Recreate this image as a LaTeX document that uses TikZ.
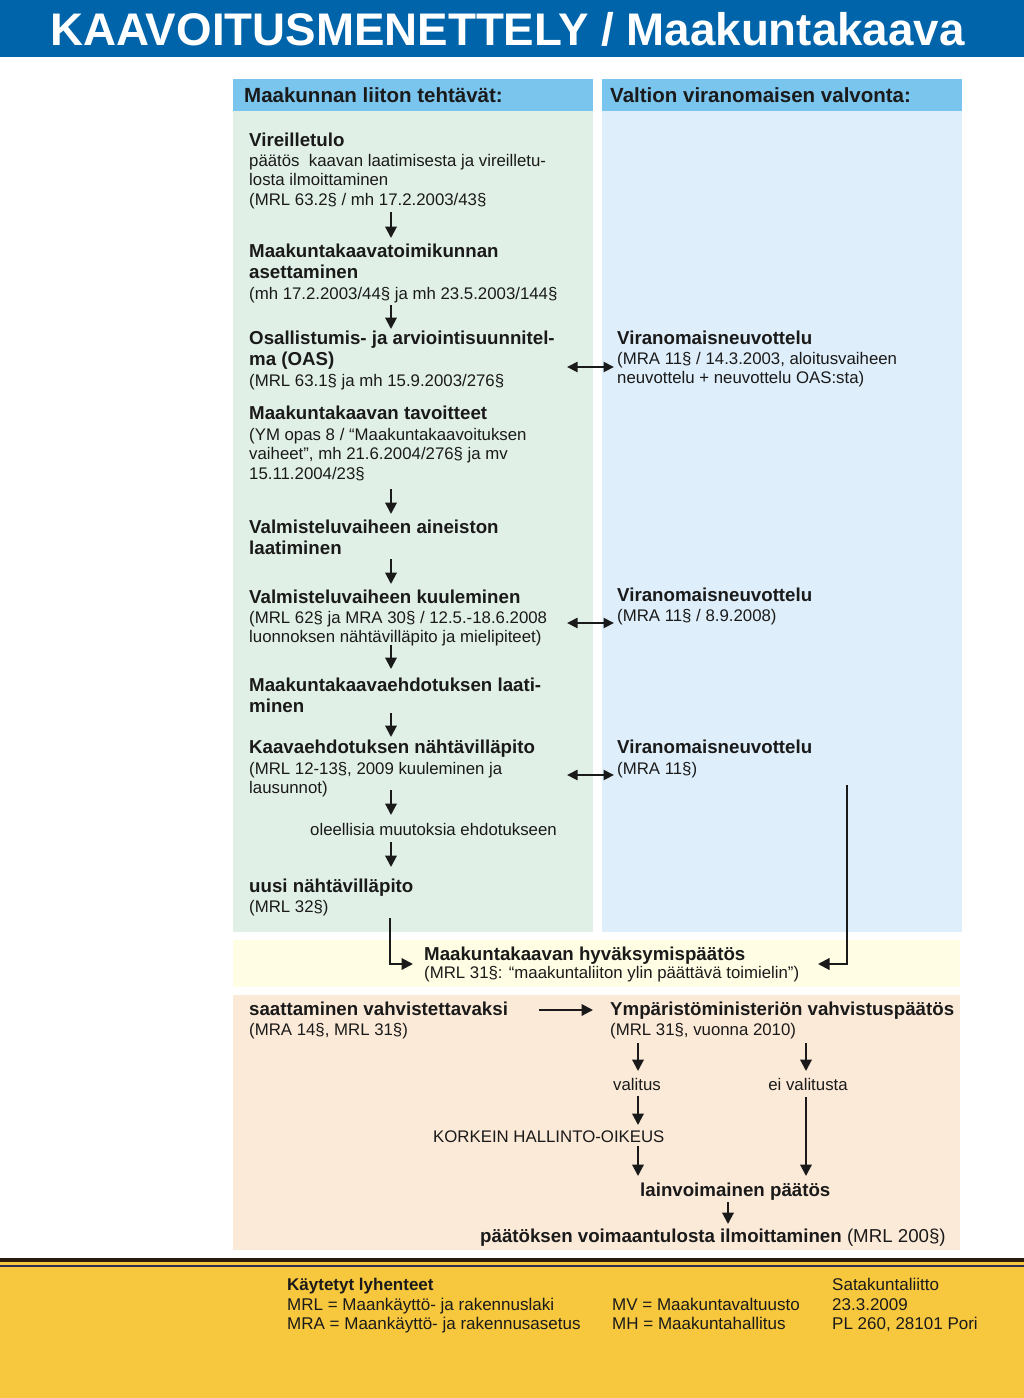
\documentclass[tikz,border=0pt]{standalone}
\usepackage{fontspec}
\setmainfont{Liberation Sans}
\usetikzlibrary{arrows.meta}
\definecolor{hdrblue}{RGB}{0,100,170}
\definecolor{colhead}{RGB}{122,197,238}
\definecolor{greencol}{RGB}{225,240,230}
\definecolor{bluecol}{RGB}{222,238,250}
\definecolor{yelband}{RGB}{255,253,228}
\definecolor{peach}{RGB}{252,234,216}
\definecolor{footyel}{RGB}{247,200,62}
\definecolor{darkline}{RGB}{42,28,12}
\definecolor{navyline}{RGB}{45,45,85}
\definecolor{ink}{RGB}{26,26,26}
\tikzset{
  txt/.style={anchor=base west, inner sep=0pt, text=ink, font=\fontsize{16.8}{19}\selectfont},
  txtc/.style={anchor=base, inner sep=0pt, text=ink, font=\fontsize{16.8}{19}\selectfont},
  hd/.style={anchor=base west, inner sep=0pt, text=ink, font=\bfseries\fontsize{18.7}{21}\selectfont},
  colhd/.style={anchor=base west, inner sep=0pt, text=ink, font=\bfseries\fontsize{20.5}{23}\selectfont},
  foot/.style={anchor=base west, inner sep=0pt, text=ink, font=\fontsize{17}{19}\selectfont},
  arr/.style={line width=2.1pt, draw=ink, -{Triangle[length=11.5pt,width=11.5pt]}},
  darr/.style={line width=2.1pt, draw=ink, {Triangle[length=10.5pt,width=10pt]}-{Triangle[length=10.5pt,width=10pt]}},
}
\begin{document}
\begin{tikzpicture}[x=1pt,y=-1pt]
\useasboundingbox (0,0) rectangle (1024,1398);
% backgrounds
\fill[hdrblue] (0,0) rectangle (1024,57);
\fill[colhead] (233,79) rectangle (593,111);
\fill[colhead] (602,79) rectangle (962,111);
\fill[greencol] (233,111) rectangle (593,932);
\fill[bluecol] (602,111) rectangle (962,932);
\fill[yelband] (233,940) rectangle (960,987);
\fill[peach] (233,995) rectangle (960,1250);
\fill[footyel] (0,1262) rectangle (1024,1398);
\fill[darkline] (0,1257.5) rectangle (1024,1262);
\fill[navyline] (0,1265.3) rectangle (1024,1266.8);

% title
\node[anchor=base, inner sep=0pt, text=white, font=\bfseries\fontsize{45.7}{50}\selectfont] (title) at (507.5,45) {KAAVOITUSMENETTELY / Maakuntakaava};

% column headers
\node[colhd] (ch1) at (244,102) {Maakunnan liiton tehtävät:};
\node[colhd] (ch2) at (610,102) {Valtion viranomaisen valvonta:};

% left column
\node[hd]  (v1)  at (249,146) {Vireilletulo};
\node[txt] (v1a) at (249,166) {päätös\ \ kaavan laatimisesta ja vireilletu-};
\node[txt] (v1b) at (249,185) {losta ilmoittaminen};
\node[txt] (v1c) at (249,205) {(MRL 63.2§ / mh 17.2.2003/43§};

\node[hd]  (m1)  at (249,257) {Maakuntakaavatoimikunnan};
\node[hd]  (m1a) at (249,278) {asettaminen};
\node[txt] (m1b) at (249,299) {(mh 17.2.2003/44§ ja mh 23.5.2003/144§};

\node[hd]  (o1)  at (249,344) {Osallistumis- ja arviointisuunnitel-};
\node[hd]  (o1a) at (249,365) {ma (OAS)};
\node[txt] (o1b) at (249,386) {(MRL 63.1§ ja mh 15.9.2003/276§};

\node[hd]  (t1)  at (249,419) {Maakuntakaavan tavoitteet};
\node[txt] (t1a) at (249,440) {(YM opas 8 / “Maakuntakaavoituksen};
\node[txt] (t1b) at (249,459) {vaiheet”, mh 21.6.2004/276§ ja mv};
\node[txt] (t1c) at (249,479) {15.11.2004/23§};

\node[hd]  (va1)  at (249,533) {Valmisteluvaiheen aineiston};
\node[hd]  (va1a) at (249,554) {laatiminen};

\node[hd]  (k1)  at (249,603) {Valmisteluvaiheen kuuleminen};
\node[txt] (k1a) at (249,623) {(MRL 62§ ja MRA 30§ / 12.5.-18.6.2008};
\node[txt] (k1b) at (249,642) {luonnoksen nähtävilläpito ja mielipiteet)};

\node[hd]  (e1)  at (249,691) {Maakuntakaavaehdotuksen laati-};
\node[hd]  (e1a) at (249,712) {minen};

\node[hd]  (n1)  at (249,753) {Kaavaehdotuksen nähtävilläpito};
\node[txt] (n1a) at (249,774) {(MRL 12-13§, 2009 kuuleminen ja};
\node[txt] (n1b) at (249,793) {lausunnot)};

\node[txt] (ol)  at (310,835) {oleellisia muutoksia ehdotukseen};

\node[hd]  (u1)  at (249,892) {uusi nähtävilläpito};
\node[txt] (u1a) at (249,912) {(MRL 32§)};

% right column
\node[hd]  (r1)  at (617,344) {Viranomaisneuvottelu};
\node[txt] (r1a) at (617,364) {(MRA 11§ / 14.3.2003, aloitusvaiheen};
\node[txt] (r1b) at (617,383) {neuvottelu + neuvottelu OAS:sta)};

\node[hd]  (r2)  at (617,601) {Viranomaisneuvottelu};
\node[txt] (r2a) at (617,621) {(MRA 11§ / 8.9.2008)};

\node[hd]  (r3)  at (617,753) {Viranomaisneuvottelu};
\node[txt] (r3a) at (617,774) {(MRA 11§)};

% yellow band
\node[hd]  (h1)  at (424,960) {Maakuntakaavan hyväksymispäätös};
\node[txt] (h1a) at (424,978) {(MRL 31§: “maakuntaliiton ylin päättävä toimielin”)};

% peach band
\node[hd]  (s1)  at (249,1015) {saattaminen vahvistettavaksi};
\node[txt] (s1a) at (249,1035) {(MRA 14§, MRL 31§)};
\node[hd]  (y1)  at (610,1015) {Ympäristöministeriön vahvistuspäätös};
\node[txt] (y1a) at (610,1035) {(MRL 31§, vuonna 2010)};
\node[txtc] (val) at (637,1090) {valitus};
\node[txtc] (eival) at (808,1090) {ei valitusta};
\node[txt] (kho) at (433,1142) {KORKEIN HALLINTO-OIKEUS};
\node[hd]  (lp)  at (640,1196) {lainvoimainen päätös};
\node[hd]  (pv)  at (480,1242) {päätöksen voimaantulosta ilmoittaminen {\mdseries (MRL 200§)}};

% footer
\node[foot,font=\bfseries\fontsize{17}{19}\selectfont] (f0) at (287,1290) {Käytetyt lyhenteet};
\node[foot] (f1) at (287,1310) {MRL = Maankäyttö- ja rakennuslaki};
\node[foot] (f2) at (287,1329) {MRA = Maankäyttö- ja rakennusasetus};
\node[foot] (f3) at (612,1310) {MV = Maakuntavaltuusto};
\node[foot] (f4) at (612,1329) {MH = Maakuntahallitus};
\node[foot] (f5) at (832,1290) {Satakuntaliitto};
\node[foot] (f6) at (832,1310) {23.3.2009};
\node[foot] (f7) at (832,1329) {PL 260, 28101 Pori};

% arrow coordinates
\coordinate (a1s) at (391,212); \coordinate (a1e) at (391,238);
\coordinate (a2s) at (391,305); \coordinate (a2e) at (391,329);
\coordinate (a3s) at (391,489); \coordinate (a3e) at (391,514);
\coordinate (a4s) at (391,559); \coordinate (a4e) at (391,584);
\coordinate (a5s) at (391,645); \coordinate (a5e) at (391,669);
\coordinate (a6s) at (391,713); \coordinate (a6e) at (391,737);
\coordinate (a7s) at (391,790); \coordinate (a7e) at (391,815);
\coordinate (a8s) at (391,842); \coordinate (a8e) at (391,867);
\coordinate (d1s) at (567,367); \coordinate (d1e) at (614,367);
\coordinate (d2s) at (567,623); \coordinate (d2e) at (614,623);
\coordinate (d3s) at (567,775); \coordinate (d3e) at (614,775);
\coordinate (elLs) at (390,918); \coordinate (elLe) at (413,964);
\coordinate (elRs) at (847,785); \coordinate (elRe) at (818,964);
\coordinate (b1s) at (539,1010); \coordinate (b1e) at (593,1010);
\coordinate (b2s) at (638,1043); \coordinate (b2e) at (638,1071);
\coordinate (b3s) at (806,1043); \coordinate (b3e) at (806,1071);
\coordinate (b4s) at (638,1096); \coordinate (b4e) at (638,1125);
\coordinate (b5s) at (638,1146); \coordinate (b5e) at (638,1176);
\coordinate (b6s) at (806,1097); \coordinate (b6e) at (806,1176);
\coordinate (b7s) at (728,1202); \coordinate (b7e) at (728,1224);

\foreach \i in {1,...,8} \draw[arr] (a\i s) -- (a\i e);
\foreach \i in {1,2,3} \draw[darr] (d\i s) -- (d\i e);
\draw[arr] (elLs) |- (elLe);
\draw[arr] (elRs) |- (elRe);
\foreach \i in {1,...,7} \draw[arr] (b\i s) -- (b\i e);
\end{tikzpicture}
\end{document}
